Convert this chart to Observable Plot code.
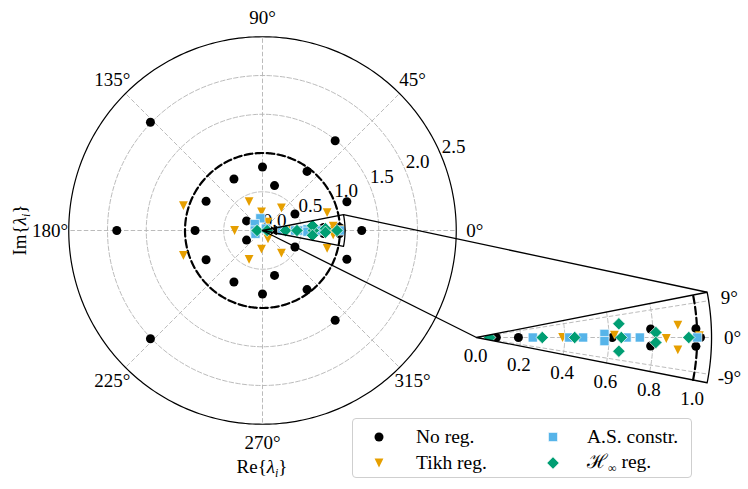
<!DOCTYPE html>
<html><head><meta charset="utf-8">
<script src="https://cdn.jsdelivr.net/npm/d3@7"></script>
<script src="https://cdn.jsdelivr.net/npm/@observablehq/plot@0.6"></script>
<style>
body{margin:0;background:#fff;}
#wrap{position:relative;width:748px;height:489px;font-family:"Liberation Serif","DejaVu Serif",serif;color:#000;}
.lab{position:absolute;font-size:19px;white-space:nowrap;line-height:1;}
.lab i{font-style:italic;}
.lab sub{font-size:12px;vertical-align:-4px;line-height:0;}
#legend{position:absolute;left:352px;top:418px;width:340px;height:60px;border:1px solid #cfcfcf;border-radius:4px;box-sizing:border-box;background:rgba(255,255,255,0.85);}
#legend .t{position:absolute;font-size:19.5px;line-height:1;transform:translateY(-50%);white-space:nowrap;}
#legend svg{position:absolute;left:0;top:0;}
</style></head>
<body><div id="wrap"></div>
<script>
// ---------------- data (r, angle in degrees) ----------------
const seriesNames = ["No reg.", "Tikh reg.", "A.S. constr.", "ℋ∞ reg."];
const seriesColors = ["#000000", "#E69F00", "#56B4E9", "#009E73"];

const noRegR     = [2.01, 2.01, 1.88, 1.49, 1.49, 1.28, 1.15, 1.15, 0.955, 0.955, 0.87, 0.82, 0.82, 0.82, 0.82, 0.76, 0.76, 0.60, 0.60, 0.47, 0.47, 0.24, 0.24, 0.09, 0.19, 0.615, 0.79, 0.79, 0.995, 0.995, 1.015];
const noRegTheta = [136, -136, 180, 51, -51, 0, 18.8, -18.8, 53, -53, 180, 152.6, -152.6, 90, -90, 119, -119, 75, -75, 27, -27, 149, -149, 0, 0, 0, 2.8, -2.8, 2.3, -2.3, 0];

const tikhR      = [1.07, 1.07, 0.41, 0.41, 0.36, 0.24, 0.24, 0.38, 0.38, 0.865, 0.865, 0.13, 0.13, 0.39, 0.625, 0.86, 0.914, 0.914, 1.01];
const tikhTheta  = [162.5, -162.5, 115, -115, 180, 93, -93, 50, -50, 15.4, -15.4, 57, -57, 0, 1, -0.3, 3.5, -3.5, 0.5];

const asR        = [0.16, 0.13, 0.10, 0.10, 0.05, 0.255, 0.42, 0.483, 0.58, 0.58, 0.68, 0.74, 1.0];
const asTheta    = [100, 140, 180, 205, 30, 0, 0, 0, 1.6, -1.6, 0, 0, 0];

const hinfR      = [0.07, 0.06, 0.298, 0.445, 0.656, 0.648, 0.648, 0.813, 0.813, 0.962];
const hinfTheta  = [180, 0, 0, 0, 0, 5.5, -5.5, 1.6, -1.6, 0];

// ---------------- axes / ticks ----------------
const gridRadii = [0.5, 1.0, 1.5, 2.0];
const outerRadius = 2.5;
const unitRadius = 1.0;
const spokeAngles = [0, 45, 90, 135, 180, 225, 270, 315];
const thetaLabels = ["0°", "45°", "90°", "135°", "180°", "225°", "270°", "315°"];
const rTicks = [0, 0.5, 1.0, 1.5, 2.0, 2.5];
const rTickLabels = ["0.0", "0.5", "1.0", "1.5", "2.0", "2.5"];
const zoomRmax = 1.065, zoomTheta = 11.1;
const insetGridRadii = [0.2, 0.4, 0.6, 0.8];
const insetRTicks = [0, 0.2, 0.4, 0.6, 0.8, 1.0];
const insetRTickLabels = ["0.0", "0.2", "0.4", "0.6", "0.8", "1.0"];
const insetThetaTicks = [9, 0, -9];
const insetThetaLabels = ["9°", "0°", "-9°"];

// ---------------- layout (pixels) ----------------
const W = 748, H = 489, CX = 262, CY = 230, S = 77.5;   // main polar centre & px/unit
const IX = 476, IY = 337, IS = 220.7;                    // inset apex & px/unit
const xDomain = [-CX / S, (W - CX) / S], yDomain = [-(H - CY) / S, CY / S];
const rad = d => d * Math.PI / 180;
const pol = (r, t) => [r * Math.cos(rad(t)), r * Math.sin(rad(t))];
const K = IS / S, AX = (IX - CX) / S, AY = (CY - IY) / S;
const ins = (r, t) => [AX + K * r * Math.cos(rad(t)), AY + K * r * Math.sin(rad(t))];
const lin = (a, b, n) => d3.range(n + 1).map(i => a + (b - a) * i / n);

// ---------------- symbols ----------------
const symCircle = {draw(c, s) { const h = Math.sqrt(s / Math.PI); c.moveTo(h, 0); c.arc(0, 0, h, 0, 2 * Math.PI); }};
const symTriDown = {draw(c, s) { const h = Math.sqrt(s / Math.PI); c.moveTo(0, h); c.lineTo(-h, -h); c.lineTo(h, -h); c.closePath(); }};
const symSquare = {draw(c, s) { const h = Math.sqrt(s / Math.PI); c.rect(-h, -h, 2 * h, 2 * h); }};
const symDiamond = {draw(c, s) { const h = Math.sqrt(s / Math.PI); c.moveTo(0, -h); c.lineTo(h, 0); c.lineTo(0, h); c.lineTo(-h, 0); c.closePath(); }};
const seriesSymbols = [symCircle, symTriDown, symSquare, symDiamond];
const seriesSizes = [4.5, 4.4, 4.6, 6.2];
const seriesStroke = ["none", "none", "white", "white"];

const build = (R, T) => R.map((r, i) => ({r, t: T[i]}));
const seriesData = [build(noRegR, noRegTheta), build(tikhR, tikhTheta), build(asR, asTheta), build(hinfR, hinfTheta)];

// ---------------- geometry helpers ----------------
const ringPts = radii => radii.flatMap(r => lin(0, 360, 240).map(t => { const [x, y] = pol(r, t); return {g: r, x, y}; }));
const mainWedge = [[0, 0], ...lin(-zoomTheta, zoomTheta, 40).map(t => pol(zoomRmax, t)), [0, 0]];
const insetWedge = [ins(0, 0), ...lin(-zoomTheta, zoomTheta, 40).map(t => ins(zoomRmax, t)), ins(0, 0)];
const insetArcs = insetGridRadii.flatMap(r => lin(-zoomTheta, zoomTheta, 40).map(t => { const [x, y] = ins(r, t); return {g: r, x, y}; }));
const insetUnitArc = lin(-zoomTheta, zoomTheta, 40).map(t => ins(unitRadius, t));
const connectors = [
  {a: pol(zoomRmax, zoomTheta), b: ins(zoomRmax, zoomTheta)},
  {a: pol(0, 0), b: ins(0, 0)}
];

let clipN = 0;
function clipToInset(index, scales, values, dimensions, context, next) {
  const g = next(index, scales, values, dimensions, context);
  const ns = "http://www.w3.org/2000/svg";
  const outer = document.createElementNS(ns, "g");
  const cp = document.createElementNS(ns, "clipPath");
  const id = "insclip" + (clipN++);
  cp.setAttribute("id", id);
  const p = document.createElementNS(ns, "path");
  p.setAttribute("d", insetWedge.map(([x, y], i) => (i ? "L" : "M") + scales.x(x) + "," + scales.y(y)).join("") + "Z");
  cp.appendChild(p);
  outer.appendChild(cp);
  if (g) { g.setAttribute("clip-path", `url(#${id})`); outer.appendChild(g); }
  return outer;
}

const gray = "#b3b3b3";
const marks = [
  // main grid
  Plot.line(ringPts(gridRadii), {x: "x", y: "y", z: "g", stroke: gray, strokeWidth: 0.9, strokeDasharray: "4.5,2.2"}),
  Plot.link(spokeAngles, {x1: () => 0, y1: () => 0, x2: t => pol(outerRadius, t)[0], y2: t => pol(outerRadius, t)[1], stroke: gray, strokeWidth: 0.9, strokeDasharray: "4.5,2.2"}),
  Plot.line(lin(0, 360, 360).map(t => pol(outerRadius, t)), {x: d => d[0], y: d => d[1], stroke: "black", strokeWidth: 1.2}),
  Plot.line(lin(0, 360, 360).map(t => pol(unitRadius, t)), {x: d => d[0], y: d => d[1], stroke: "black", strokeWidth: 2.2, strokeDasharray: "7.5,3.5"}),
  // main tick labels
  Plot.text(spokeAngles, {x: t => pol(2.74, t)[0], y: t => pol(2.74, t)[1], text: (t, i) => thetaLabels[i], fontSize: 19}),
  Plot.text(rTicks, {x: r => pol(r, 22.5)[0], y: r => pol(r, 22.5)[1], text: (r, i) => rTickLabels[i], dx: 12, dy: -9.5, fontSize: 19}),
  // inset grid
  Plot.line(insetArcs, {x: "x", y: "y", z: "g", stroke: gray, strokeWidth: 0.9, strokeDasharray: "4.5,2.2"}),
  Plot.link(insetThetaTicks, {x1: () => ins(0, 0)[0], y1: () => ins(0, 0)[1], x2: t => ins(zoomRmax, t)[0], y2: t => ins(zoomRmax, t)[1], stroke: gray, strokeWidth: 0.9, strokeDasharray: "4.5,2.2"}),
  Plot.line(insetUnitArc, {x: d => d[0], y: d => d[1], stroke: "black", strokeWidth: 2.2, strokeDasharray: "7.5,3.5"}),
  Plot.text(insetThetaTicks, {x: t => ins(1.16, t)[0], y: t => ins(1.16, t)[1], text: (t, i) => insetThetaLabels[i], fontSize: 19}),
  Plot.text(insetRTicks, {x: r => ins(r, -zoomTheta)[0], y: r => ins(r, -zoomTheta)[1], text: (r, i) => insetRTickLabels[i], dx: -1, dy: 18.5, fontSize: 19}),
];
// main points
seriesData.forEach((d, k) => {
  marks.push(Plot.dot(d, {x: p => pol(p.r, p.t)[0], y: p => pol(p.r, p.t)[1], symbol: seriesSymbols[k], r: seriesSizes[k], fill: seriesColors[k], stroke: seriesStroke[k], strokeWidth: 0.7}));
});
// inset points (only those inside the zoomed wedge)
seriesData.forEach((d, k) => {
  const inside = d.filter(p => Math.abs(p.t) <= zoomTheta + 2 && p.r <= zoomRmax + 0.05);
  marks.push(Plot.dot(inside, {x: p => ins(p.r, p.t)[0], y: p => ins(p.r, p.t)[1], symbol: seriesSymbols[k], r: seriesSizes[k], fill: seriesColors[k], stroke: seriesStroke[k], strokeWidth: 0.7, render: clipToInset}));
});
// wedge outlines and connectors
marks.push(
  Plot.line(mainWedge, {x: d => d[0], y: d => d[1], stroke: "black", strokeWidth: 1.3}),
  Plot.line(insetWedge, {x: d => d[0], y: d => d[1], stroke: "black", strokeWidth: 1.3}),
  Plot.link(connectors, {x1: c => c.a[0], y1: c => c.a[1], x2: c => c.b[0], y2: c => c.b[1], stroke: "black", strokeWidth: 1.3})
);

const chart = Plot.plot({
  width: W, height: H, margin: 0,
  x: {domain: xDomain, axis: null},
  y: {domain: yDomain, axis: null},
  style: {fontFamily: '"Liberation Serif", "DejaVu Serif", serif', fontSize: "19px", background: "white", overflow: "visible"},
  marks
});
const wrap = document.getElementById("wrap");
wrap.appendChild(chart);

// axis labels
const imLab = document.createElement("div");
imLab.className = "lab";
imLab.innerHTML = 'Im{<i>λ</i><sub><i>i</i></sub>}';
imLab.style.left = "19px"; imLab.style.top = "230px";
imLab.style.transform = "translate(-50%,-50%) rotate(-90deg)";
wrap.appendChild(imLab);
const reLab = document.createElement("div");
reLab.className = "lab";
reLab.innerHTML = 'Re{<i>λ</i><sub><i>i</i></sub>}';
reLab.style.left = "262px"; reLab.style.top = "466px";
reLab.style.transform = "translate(-50%,-50%)";
wrap.appendChild(reLab);

// legend
const legend = document.createElement("div");
legend.id = "legend";
const lx = [26, 200], ly = [18, 44], tx = [63, 234];
const pos = [[0, 0], [0, 1], [1, 0], [1, 1]];
let svgIcons = `<svg width="340" height="60">`;
pos.forEach(([c, r], k) => {
  const ctx = d3.path();
  seriesSymbols[k].draw(ctx, seriesSizes[k] * seriesSizes[k] * Math.PI);
  svgIcons += `<path transform="translate(${lx[c]},${ly[r]})" d="${ctx.toString()}" fill="${seriesColors[k]}" stroke="${seriesStroke[k]}" stroke-width="0.7"/>`;
});
svgIcons += `</svg>`;
legend.innerHTML = svgIcons;
const legendTexts = ["No reg.", "Tikh reg.", "A.S. constr.", '<span style="font-family:\'DejaVu Serif\',serif;">ℋ</span><sub style="font-size:12px;vertical-align:-4px;">∞</sub> reg.'];
pos.forEach(([c, r], k) => {
  const t = document.createElement("div");
  t.className = "t";
  t.style.left = tx[c] + "px"; t.style.top = ly[r] + "px";
  t.innerHTML = legendTexts[k];
  legend.appendChild(t);
});
wrap.appendChild(legend);
</script>
</body></html>
